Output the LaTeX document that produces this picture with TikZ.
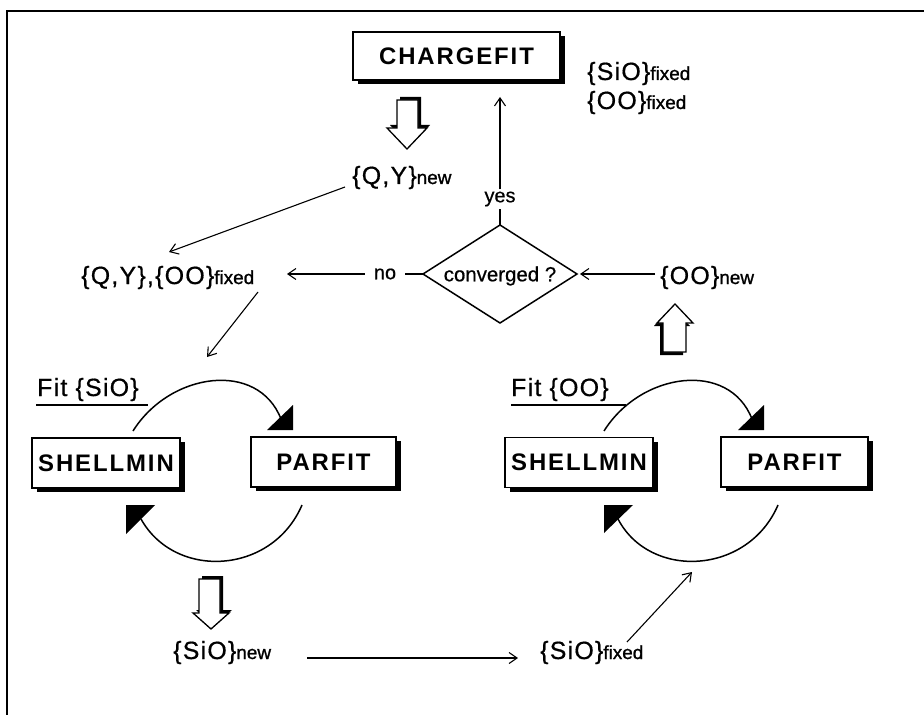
\documentclass[tikz,border=0pt]{standalone}
\usepackage{fontspec}
\setmainfont{Liberation Sans}[FakeBold=0.6]
\newfontfamily\labf{Liberation Sans}[LetterSpace=5,FakeBold=0.6]
\newfontfamily\subf{Liberation Sans}[FakeBold=1.2]
\newfontfamily\boxf{Liberation Sans}[LetterSpace=8]
\usetikzlibrary{arrows.meta,shadows}
\newcommand\lowtxt[1]{{\subf\fontsize{19}{20}\selectfont #1}}
\begin{document}
\begin{tikzpicture}[x=1bp,y=-1bp,
 conn/.style={line width=1.1bp, -{Straight Barb[length=8bp,width=11bp,line width=1.1bp]}},
 plain/.style={line width=1.1bp},
 lbl/.style={font=\labf\fontsize{25}{28}\selectfont, inner sep=0pt, anchor=base west},
 small/.style={font=\fontsize{20}{22}\selectfont, inner sep=2bp},
 prog/.style={draw, line width=1.4bp, fill=white, inner sep=0pt,
   font=\boxf\bfseries\fontsize{24}{28}\selectfont,
   drop shadow={shadow xshift=5bp, shadow yshift=-4bp, fill=black, opacity=1}},
 arcline/.style={line width=1.5bp},
 hollow/.style={draw, line width=1.3bp, fill=white, line join=miter},
 hshadow/.style={fill=black}
]
\useasboundingbox (0,0) rectangle (924,715);
% frame
\draw[line width=1.8bp] (924,11) -- (7,11) -- (7,715);

% CHARGEFIT
\node[prog, minimum width=207bp, minimum height=48bp] (cf) at (456.5,56) {CHARGEFIT};
\node[lbl] (siofx) at (587,80) {\{SiO\}\lowtxt{fixed}};
\node[lbl] (oofx) at (587,109) {\{OO\}\lowtxt{fixed}};

% hollow down arrow 1
\fill[hshadow] (400,97) -- (421,97) -- (421,125) -- (430,125) -- (410,146) -- (390,125) -- (400,125) -- cycle;
\path[hollow] (397,100) -- (418,100) -- (418,128) -- (427,128) -- (407,149) -- (387,128) -- (397,128) -- cycle;

% Q,Y new
\node[lbl] (qyn) at (352,184) {\{Q,Y\}\lowtxt{new}};
\node[lbl] (qyoo) at (81,284) {\{Q,Y\},\{OO\}\lowtxt{fixed}};
\coordinate (qyfrom) at (345,187);
\coordinate (qyto) at (169,252);
\draw[conn] (qyfrom) -- (qyto);

% diamond
\coordinate (dn) at (500,225);
\coordinate (ds) at (500,323);
\coordinate (dw) at (423,274);
\coordinate (de) at (577,274);
\draw[line width=1.5bp, line join=miter] (dn) -- (de) -- (ds) -- (dw) -- cycle;
\node[font=\fontsize{20.5}{22}\selectfont] (conv) at (500,276) {converged ?};

% yes
\node[small] (yes) at (500,199) {yes};
\coordinate (cfin) at (500,97);
\draw[plain] (dn) -- (yes.south);
\draw[conn] (yes.north) -- (cfin);

% no
\node[small, inner xsep=9bp] (no) at (385,274) {no};
\coordinate (noto) at (287,274);
\draw[plain] (dw) -- (no.east);
\draw[conn] (no.west) -- (noto);

% OO new
\node[lbl] (oon) at (660,284) {\{OO\}\lowtxt{new}};
\coordinate (oonfrom) at (655,274);
\coordinate (deto) at (580,274);
\draw[conn] (oonfrom) -- (deto);

% hollow up arrow
\fill[hshadow] (660,355) -- (683,355) -- (683,326) -- (690,326) -- (672,307) -- (654,326) -- (660,326) -- cycle;
\path[hollow] (663,352) -- (686,352) -- (686,323) -- (693,323) -- (675,304) -- (657,323) -- (663,323) -- cycle;

% arrow to left loop
\coordinate (qyofrom) at (258,292);
\coordinate (qyoto) at (207,357);
\draw[conn] (qyofrom) -- (qyoto);

% Fit labels
\node[lbl] (fitl) at (37,396) {Fit \{SiO\}};
\draw[plain] (36,405) -- (148,405);
\node[lbl] (fitr) at (511,396) {Fit \{OO\}};
\draw[plain] (511,405) -- (626,405);

% boxes
\node[prog, minimum width=148bp, minimum height=50bp] (shl) at (106,463) {SHELLMIN};
\node[prog, minimum width=145bp, minimum height=50bp] (pfl) at (323.5,462) {PARFIT};
\node[prog, minimum width=148bp, minimum height=50bp] (shr) at (579,462.5) {SHELLMIN};
\node[prog, minimum width=147bp, minimum height=50bp] (pfr) at (794.5,462) {PARFIT};

% left loop
\draw[arcline] (133,431) .. controls (170,372) and (258,360) .. (281,419);
\fill (267,430) -- (293,405) -- (293,430) -- cycle;
\draw[arcline] (302,505) .. controls (272,575) and (175,580) .. (141,519);
\fill (126,505) -- (155,505) -- (126,534) -- cycle;

% right loop
\draw[arcline] (604,431) .. controls (641,372) and (729,360) .. (752,419);
\fill (738,430) -- (764,405) -- (764,430) -- cycle;
\draw[arcline] (778,505) .. controls (748,575) and (650,580) .. (618,519);
\fill (604,505) -- (633,505) -- (604,533) -- cycle;

% hollow down arrow 2
\fill[hshadow] (202,576) -- (223,576) -- (223,610) -- (232,610) -- (214,626) -- (196,610) -- (202,610) -- cycle;
\path[hollow] (199,579) -- (220,579) -- (220,613) -- (229,613) -- (211,629) -- (193,613) -- (199,613) -- cycle;

% bottom
\node[lbl] (sion) at (173,659) {\{SiO\}\lowtxt{new}};
\node[lbl] (siofb) at (540,659) {\{SiO\}\lowtxt{fixed}};
\coordinate (bfrom) at (307,658);
\coordinate (bto) at (518,658);
\draw[conn] (bfrom) -- (bto);
\coordinate (rfrom) at (627,642);
\coordinate (rto) at (692,572);
\draw[conn] (rfrom) -- (rto);
\end{tikzpicture}
\end{document}
